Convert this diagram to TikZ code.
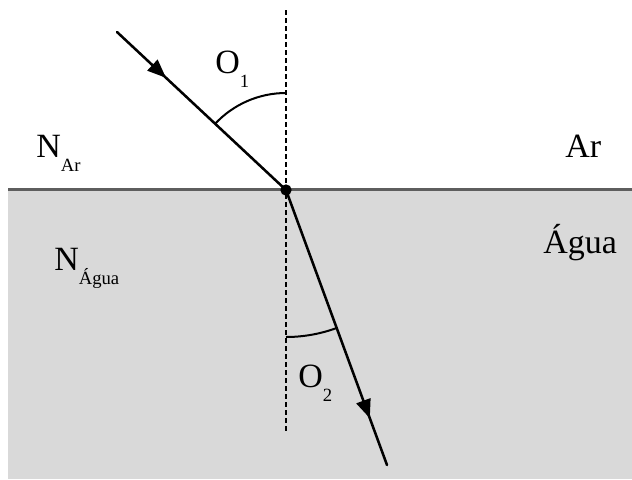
\documentclass[tikz,border=0pt]{standalone}
\usepackage{fontspec}
\setmainfont{Liberation Serif}
\usepackage{tikz}
\usetikzlibrary{arrows.meta, decorations.markings, calc}
\definecolor{watercol}{HTML}{D9D9D9}
\definecolor{surfcol}{HTML}{5E5E5E}
\newcommand{\lowidx}[1]{\raisebox{-0.42em}{\fontsize{14}{14}\selectfont #1}}
\tikzset{
  % light ray with an arrow part-way along
  ray/.style={line width=1.9pt, line cap=round, decoration={markings,
              mark=at position #1 with {\arrow{Triangle[length=14pt,width=11pt]}}},
              postaction=decorate},
  % dashed normal line
  normal/.style={dashed, line width=1pt, dash pattern=on 3.5pt off 2.5pt},
  % angle arcs
  anglearc/.style={line width=1.5pt},
  % text labels
  lbl/.style={font=\fontsize{25.5}{30}\selectfont, inner sep=0pt, anchor=base west},
}
\begin{document}
\begin{tikzpicture}[x=0.75pt, y=0.75pt]
  \useasboundingbox (0,0) rectangle (632,-479);
  \fill[watercol] (8,-190) rectangle (632,-479);
  \draw[surfcol, line width=1.6pt] (8,-189.5) -- (632,-189.5);

  \coordinate (P) at (286,-190);
  \coordinate (ntop) at (286,-10);
  \coordinate (nbot) at (286,-432);
  \coordinate (src) at (117,-32);
  \coordinate (dst) at (387,-465);

  \draw[normal] (ntop) -- (nbot);
  \draw[ray=0.29] (src) -- (P);
  \draw[ray=0.83] (P) -- (dst);
  \node[circle, fill=black, inner sep=0pt, minimum size=8.5pt] (hit) at (P) {};

  \draw[anglearc] (P) ++(90:97) arc[start angle=90, end angle=136.9, radius=97];
  \draw[anglearc] (P) ++(270:147) arc[start angle=270, end angle=290.2, radius=147];

  \node[lbl] (theta1) at (215,-73) {O\lowidx{1}};
  \node[lbl] (theta2) at (298,-387) {O\lowidx{2}};
  \node[lbl] (nar) at (36,-157) {N\lowidx{Ar}};
  \node[lbl] (nagua) at (54,-270) {N\lowidx{Água}};
  \node[lbl] (ar) at (565,-157) {Ar};
  \node[lbl] (agua) at (543,-253) {Água};
\end{tikzpicture}
\end{document}
